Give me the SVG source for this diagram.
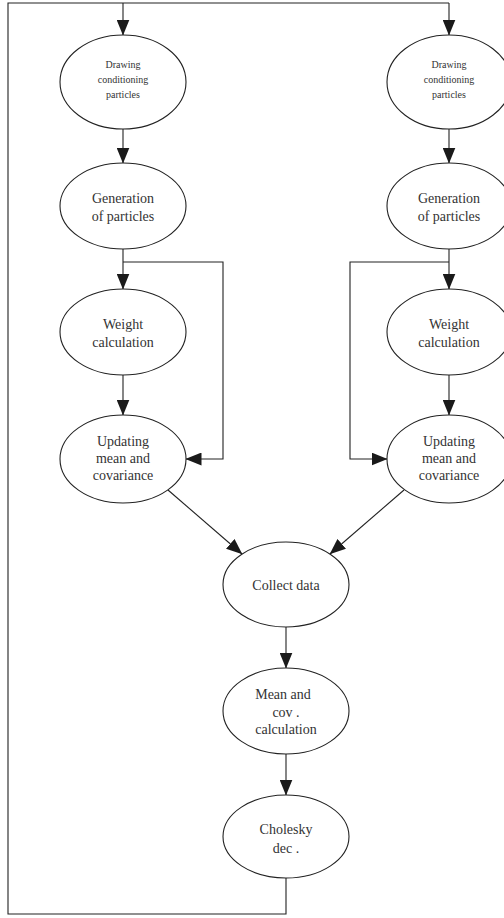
<svg xmlns="http://www.w3.org/2000/svg" width="504" height="918" viewBox="0 0 504 918">
  <style>
    .node ellipse { fill: #ffffff; stroke: #222222; stroke-width: 1.1; }
    .node text { font-family: "Liberation Serif", "Times New Roman", serif; fill: #333333; text-anchor: middle; font-size: 14px; }
    .node text.small { font-size: 10px; }
    .edges path { fill: none; stroke: #222222; stroke-width: 1.1; marker-end: url(#arrow); }
    .edges path.plain { marker-end: none; }
  </style>
  <defs>
    <marker id="arrow" markerUnits="userSpaceOnUse" markerWidth="16" markerHeight="13" viewBox="0 0 16 13" refX="15.5" refY="6.5" orient="auto">
      <polygon points="0,0 16,6.5 0,13" fill="#1a1a1a"/>
    </marker>
  </defs>
  <rect width="504" height="918" fill="#ffffff"/>

  <g class="edges">
    <!-- feedback loop from Cholesky back to both branches -->
    <path class="plain" d="M286,878 V914 H8 V3 H449"/>
    <path d="M123,3 V35"/>
    <path d="M449,3 V35"/>
    <!-- left branch -->
    <path d="M123,128 V163"/>
    <path d="M123,249 V289"/>
    <path d="M123,375 V415"/>
    <path d="M123,262 H223 V459 H186"/>
    <!-- right branch -->
    <path d="M449,128 V163"/>
    <path d="M449,249 V289"/>
    <path d="M449,375 V415"/>
    <path d="M449,262 H350 V459 H387"/>
    <!-- merge -->
    <path d="M168,490 L242,554"/>
    <path d="M404,490 L330,554"/>
    <path d="M286,627 V668"/>
    <path d="M286,754 V795"/>
  </g>

  <g id="draw-left" class="node">
    <ellipse cx="123" cy="82" rx="63" ry="47"/>
    <text class="small" x="123" y="68">Drawing</text>
    <text class="small" x="123" y="83">conditioning</text>
    <text class="small" x="123" y="98">particles</text>
  </g>
  <g id="draw-right" class="node">
    <ellipse cx="449" cy="82" rx="62" ry="47"/>
    <text class="small" x="449" y="68">Drawing</text>
    <text class="small" x="449" y="83">conditioning</text>
    <text class="small" x="449" y="98">particles</text>
  </g>

  <g id="gen-left" class="node">
    <ellipse cx="123" cy="206" rx="63" ry="43"/>
    <text x="123" y="203">Generation</text>
    <text x="123" y="221">of particles</text>
  </g>
  <g id="gen-right" class="node">
    <ellipse cx="449" cy="206" rx="62" ry="43"/>
    <text x="449" y="203">Generation</text>
    <text x="449" y="221">of particles</text>
  </g>

  <g id="weight-left" class="node">
    <ellipse cx="123" cy="332" rx="63" ry="43"/>
    <text x="123" y="329">Weight</text>
    <text x="123" y="347">calculation</text>
  </g>
  <g id="weight-right" class="node">
    <ellipse cx="449" cy="332" rx="62" ry="43"/>
    <text x="449" y="329">Weight</text>
    <text x="449" y="347">calculation</text>
  </g>

  <g id="update-left" class="node">
    <ellipse cx="123" cy="459" rx="63" ry="44"/>
    <text x="123" y="446">Updating</text>
    <text x="123" y="463">mean and</text>
    <text x="123" y="480">covariance</text>
  </g>
  <g id="update-right" class="node">
    <ellipse cx="449" cy="459" rx="62" ry="44"/>
    <text x="449" y="446">Updating</text>
    <text x="449" y="463">mean and</text>
    <text x="449" y="480">covariance</text>
  </g>

  <g id="collect" class="node">
    <ellipse cx="286" cy="584.5" rx="63" ry="42.5"/>
    <text x="286" y="590">Collect data</text>
  </g>

  <g id="meancov" class="node">
    <ellipse cx="286" cy="711" rx="63" ry="43"/>
    <text x="283" y="699">Mean and</text>
    <text x="286" y="717">cov .</text>
    <text x="286" y="734">calculation</text>
  </g>

  <g id="cholesky" class="node">
    <ellipse cx="286" cy="836.5" rx="63" ry="41.5"/>
    <text x="286" y="834">Cholesky</text>
    <text x="286" y="853">dec .</text>
  </g>
</svg>
